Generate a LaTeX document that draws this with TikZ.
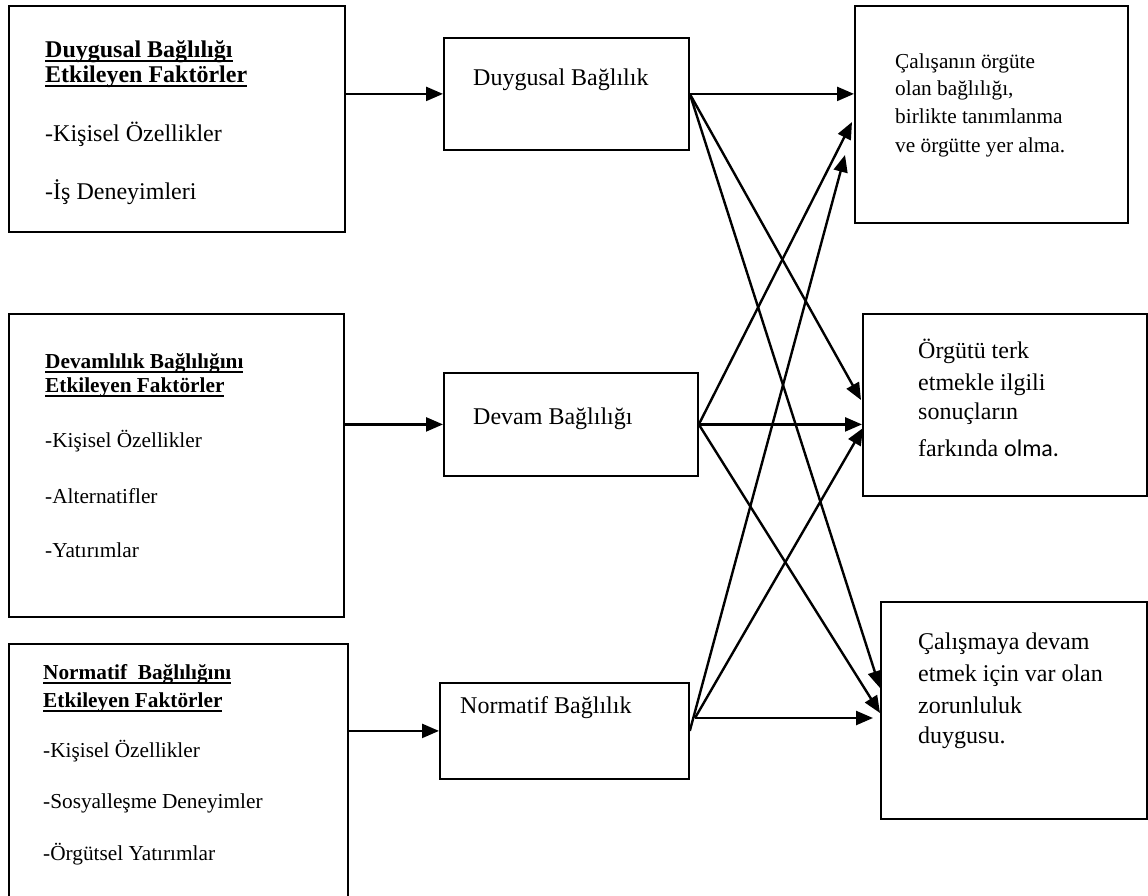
\documentclass[tikz,border=0pt]{standalone}
\usepackage{fontspec}
\setmainfont{Liberation Serif}
\newfontfamily\calfont{Carlito}
\usetikzlibrary{arrows.meta,calc}
\newcommand\myul[1]{\setbox0=\hbox{#1}\rlap{\rule[-4.5pt]{\wd0}{2pt}}\box0}
\begin{document}
\begin{tikzpicture}[x=1pt,y=-1pt,
  box/.style={draw,line width=1.8pt,inner sep=0pt,anchor=north west},
  arr/.style={line width=2.4pt,-{Triangle[length=17pt,width=14pt]}},
  txt/.style={anchor=base west,inner sep=0pt,font=\fontsize{24}{28}\selectfont},
  stxt/.style={anchor=base west,inner sep=0pt,font=\fontsize{21.3}{26}\selectfont}]
\useasboundingbox (0,0) rectangle (1148,895);
\clip (0,0) rectangle (1148,895);
% boxes
\node[box,minimum width=336pt,minimum height=226pt] (L1) at (8,5) {};
\node[box,minimum width=335pt,minimum height=303pt] (L2) at (8,313) {};
\node[box,minimum width=339pt,minimum height=270pt] (L3) at (8,643) {};
\node[box,minimum width=245pt,minimum height=112pt] (M1) at (443,37) {};
\node[box,minimum width=254pt,minimum height=103pt] (M2) at (443,372) {};
\node[box,minimum width=249pt,minimum height=96pt] (M3) at (439,682) {};
\node[box,minimum width=273pt,minimum height=217pt] (R1) at (854,5) {};
\node[box,minimum width=284pt,minimum height=182pt] (R2) at (862,313) {};
\node[box,minimum width=266pt,minimum height=217pt] (R3) at (880,601) {};
% left texts
\node[txt] (l1a) at (45,57) {\bfseries\myul{Duygusal Bağlılığı}};
\node[txt] (l1b) at (45,82) {\bfseries\myul{Etkileyen Faktörler}};
\node[txt] (l1c) at (45,141) {-Kişisel Özellikler};
\node[txt] (l1d) at (45,199) {-İş Deneyimleri};
\node[stxt] (l2a) at (45,368) {\bfseries\myul{Devamlılık Bağlılığını}};
\node[stxt] (l2b) at (45,392) {\bfseries\myul{Etkileyen Faktörler}};
\node[stxt] (l2c) at (45,447) {-Kişisel Özellikler};
\node[stxt] (l2d) at (45,503) {-Alternatifler};
\node[stxt] (l2e) at (45,557) {-Yatırımlar};
\node[stxt] (l3a) at (43,679) {\bfseries\myul{Normatif~ Bağlılığını}};
\node[stxt] (l3b) at (43,707) {\bfseries\myul{Etkileyen Faktörler}};
\node[stxt] (l3c) at (43,757) {-Kişisel Özellikler};
\node[stxt] (l3d) at (43,808) {-Sosyalleşme Deneyimler};
\node[stxt] (l3e) at (43,860) {-Örgütsel Yatırımlar};
% middle texts
\node[txt] (m1t) at (473,85) {Duygusal Bağlılık};
\node[txt] (m2t) at (473,424) {Devam Bağlılığı};
\node[txt] (m3t) at (460,713) {Normatif Bağlılık};
% right texts
\node[stxt] (r1a) at (895,68) {Çalışanın örgüte};
\node[stxt] (r1b) at (895,95) {olan bağlılığı,};
\node[stxt] (r1c) at (895,123) {birlikte tanımlanma};
\node[stxt] (r1d) at (895,152) {ve örgütte yer alma.};
\node[txt] (r2a) at (918,358) {Örgütü terk};
\node[txt] (r2b) at (918,390) {etmekle ilgili};
\node[txt] (r2c) at (918,419) {sonuçların};
\node[txt] (r2d) at (918,456) {farkında {\calfont olma.}};
\node[txt] (r3a) at (918,649) {Çalışmaya devam};
\node[txt] (r3b) at (918,681) {etmek için var olan};
\node[txt] (r3c) at (918,713) {zorunluluk};
\node[txt] (r3d) at (918,743) {duygusu.};
% connector end points
\coordinate (m3o) at (695,718);
\coordinate (t12) at (861,400);
\coordinate (t13) at (880,688);
\coordinate (t21) at (852,122);
\coordinate (t23) at (880,713);
\coordinate (t31) at (845,155);
\coordinate (t32) at (863,428);
\coordinate (t33) at (873,718);
% connectors
\draw[arr] (L1.east |- M1.west) -- (M1.west);
\draw[arr] (L2.east |- M2.west) -- (M2.west);
\draw[arr] (L3.east |- M3.west) -- (M3.west);
\draw[arr] (M1.east) -- (M1.east -| R1.west);
\draw[arr] (M1.east) -- (t12);
\draw[arr] (M1.east) -- (t13);
\draw[arr] (M2.east) -- (t21);
\draw[arr] (M2.east) -- (M2.east -| R2.west);
\draw[arr] (M2.east) -- (t23);
\draw[arr] (M3.east) -- (t31);
\draw[arr] (m3o) -- (t32);
\draw[arr] (m3o) -- (t33);
\end{tikzpicture}
\end{document}
